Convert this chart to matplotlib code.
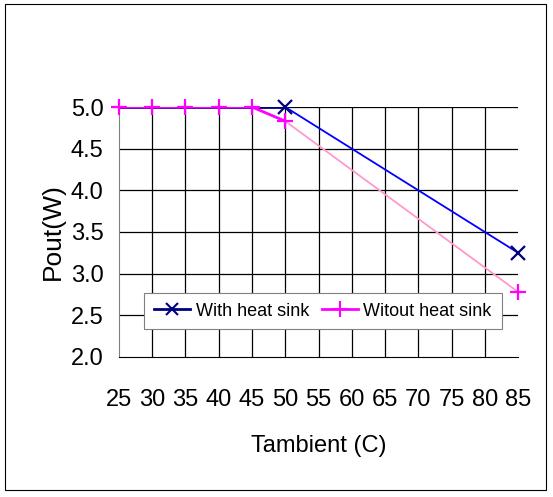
"""Output power vs ambient temperature, with and without heat sink."""

import matplotlib

matplotlib.use("Agg")
import matplotlib.pyplot as plt
from matplotlib.patches import Rectangle

plt.rcParams["font.family"] = ["Liberation Sans", "DejaVu Sans"]

# data
temps = [25, 30, 35, 40, 45, 50, 85]
with_sink = [5.0, 5.0, 5.0, 5.0, 5.0, 5.0, 3.25]
without_sink = [5.0, 5.0, 5.0, 5.0, 5.0, 4.83, 2.78]
x_ticks = [25, 30, 35, 40, 45, 50, 55, 60, 65, 70, 75, 80, 85]
y_ticks = [2.0, 2.5, 3.0, 3.5, 4.0, 4.5, 5.0]

fig = plt.figure(figsize=(5.53, 4.97), dpi=100)
ax = fig.add_axes([0.215, 0.2817, 0.722, 0.503])

fig.patches.append(Rectangle((0.009, 0.014), 0.978, 0.978, transform=fig.transFigure,
                             fill=False, edgecolor="black", linewidth=0.8))

# grid
for xv in x_ticks[1:-1]:
    ax.axvline(xv, color="black", linewidth=0.9, zorder=1)
for yv in y_ticks[1:]:
    ax.axhline(yv, color="black", linewidth=0.9, zorder=1)

# sloped parts drawn in lighter tones, as in the original
ax.plot(temps[5:], with_sink[5:], color="#0000FF", linewidth=1.3, zorder=2)
ax.plot(temps[5:], without_sink[5:], color="#FF99CC", linewidth=1.3, zorder=2)

# navy markers at 25-45 sit under the magenta ones, only 50 and 85 show
ax.plot(temps[:6], with_sink[:6], color="#000080", linewidth=2, zorder=3)
ax.plot(temps, with_sink, linestyle="none", marker="x", markersize=10, markeredgewidth=1.6,
        color="#000080", zorder=4, clip_on=False, markevery=[5, 6])
ax.plot(temps[:6], without_sink[:6], color="#FF00FF", linewidth=2, zorder=5)
ax.plot(temps, without_sink, linestyle="none", marker="+", markersize=12, markeredgewidth=1.6,
        color="#FF00FF", zorder=6, clip_on=False)

# legend proxies
h1, = ax.plot([], [], color="#000080", linewidth=2, marker="x", markersize=9, markeredgewidth=1.5)
h2, = ax.plot([], [], color="#FF00FF", linewidth=2, marker="+", markersize=12, markeredgewidth=1.5)
leg = ax.legend([h1, h2], ["With heat sink", "Witout heat sink"], ncol=2, loc="lower center",
                bbox_to_anchor=(0.511, 0.11), fontsize=13, frameon=True, fancybox=False,
                framealpha=1, edgecolor="#808080", handlelength=2.0, handletextpad=0.3,
                columnspacing=0.7, borderpad=0.55, borderaxespad=0)
leg.get_frame().set_linewidth(0.8)

ax.set_xlim(25, 85)
ax.set_ylim(2.0, 5.0)
ax.set_xticks(x_ticks)
ax.set_xticklabels([str(t) for t in x_ticks])
ax.set_yticks(y_ticks)
ax.set_yticklabels([f"{v:.1f}" for v in y_ticks])
ax.tick_params(axis="x", length=0, pad=23, labelsize=17)
ax.tick_params(axis="y", length=0, pad=11, labelsize=17)

ax.spines["top"].set_visible(False)
ax.spines["right"].set_visible(False)
ax.spines["left"].set_color("#808080")
ax.spines["bottom"].set_color("black")

ax.set_xlabel("Tambient (C)", fontsize=17, labelpad=17)
ax.set_ylabel("Pout(W)", fontsize=19, labelpad=4)

fig.savefig("out.png", dpi=100)
